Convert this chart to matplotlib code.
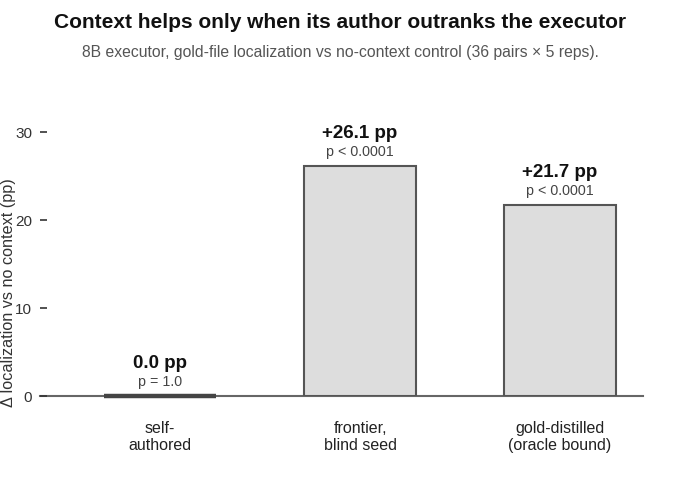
import numpy as np
import matplotlib
matplotlib.use("Agg")
import matplotlib.pyplot as plt

plt.rcParams['font.family'] = ['Liberation Sans', 'DejaVu Sans']

categories = ["self-\nauthored", "frontier,\nblind seed", "gold-distilled\n(oracle bound)"]
deltas = [0.0, 26.1, 21.7]
value_labels = ["0.0 pp", "+26.1 pp", "+21.7 pp"]
p_labels = ["p = 1.0", "p < 0.0001", "p < 0.0001"]

fig = plt.figure(figsize=(6.8, 4.8), dpi=100)
ax = fig.add_axes([40 / 680, 0.175, 603 / 680, 0.605])

x = np.arange(len(categories))
ax.bar(x, deltas, width=0.56, color="#dddddd", edgecolor="#555555", linewidth=1.5, zorder=2)
# zero-height bar shows as a thick dark line
for xi, d in zip(x, deltas):
    if d == 0:
        ax.hlines(0, xi - 0.28, xi + 0.28, color="#444444", linewidth=3.2, zorder=3, clip_on=False)

ax.axhline(0, color="#666666", linewidth=1.5, zorder=1, clip_on=False)

for xi, d, vl, pl in zip(x, deltas, value_labels, p_labels):
    ax.text(xi, d + 1.6, pl, ha="center", va="center", fontsize=10.3, color="#444444")
    ax.text(xi, d + 3.7, vl, ha="center", va="center", fontsize=13.5, fontweight="bold", color="#111111")

ax.set_xlim(-0.6, 2.415)
ax.set_ylim(0, 33)
ax.set_yticks([0, 10, 20, 30])
ax.set_xticks(x)
ax.set_xticklabels(categories, fontsize=11.5, color="#222222")
ax.tick_params(axis="y", direction="in", length=5, width=1.2, color="#333333",
               labelsize=11, labelcolor="#333333", pad=5.5)
ax.tick_params(axis="x", length=0, pad=18)
for s in ax.spines.values():
    s.set_visible(False)
ax.set_ylabel("Δ localization vs no context (pp)", fontsize=11.7, color="#333333")
ax.yaxis.set_label_coords(-24 / 603, (396 - 293) / (396 - 105.6))

fig.text(0.5, 1 - 22 / 480, "Context helps only when its author outranks the executor",
         ha="center", va="center", fontsize=15, fontweight="bold", color="#111111")
fig.text(0.5, 1 - 52 / 480, "8B executor, gold-file localization vs no-context control (36 pairs × 5 reps).",
         ha="center", va="center", fontsize=11.3, color="#555555")

fig.savefig("out.png", dpi=100)
